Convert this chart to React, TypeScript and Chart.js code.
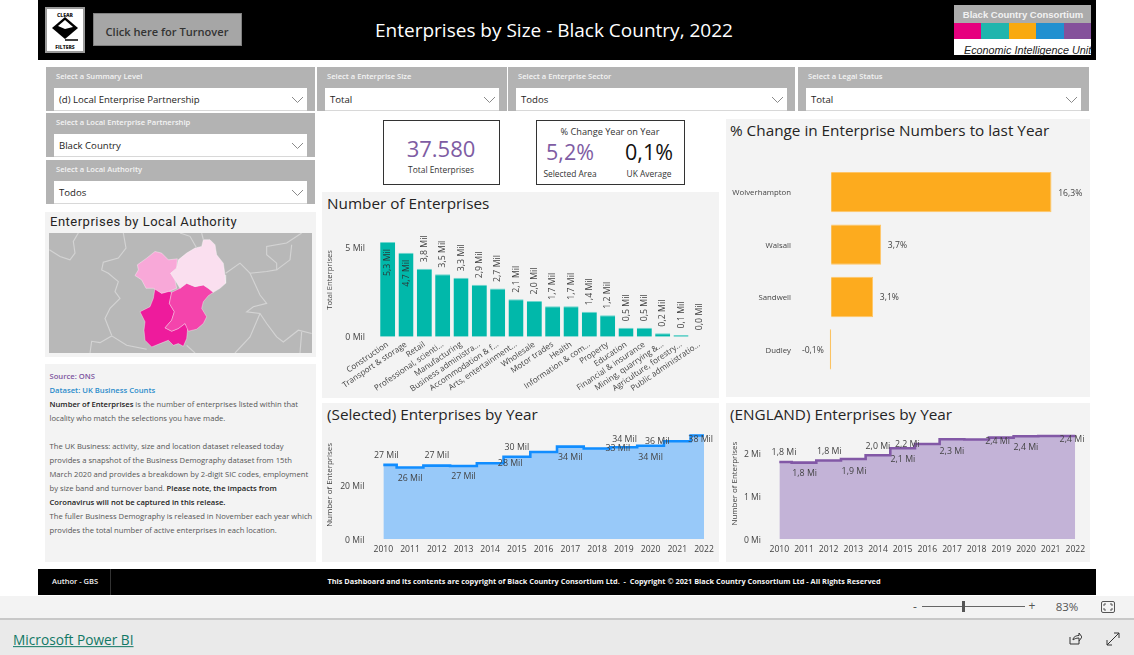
import React, { useEffect, useRef } from "react";
import { Chart, registerables } from "chart.js";

Chart.register(...registerables);

const FONT = '"Open Sans", "Noto Sans", sans-serif';
const INK = "#444444";

// ---------- data ----------
const sectorNames = [
  "Construction", "Transport & storage", "Retail", "Professional, scienti...", "Manufacturing",
  "Business administra...", "Accommodation & f...", "Arts, entertainment...", "Wholesale", "Motor trades",
  "Health", "Information & com...", "Property", "Education", "Financial & insurance",
  "Mining, quarrying &...", "Agriculture, forestry...", "Public administratio...",
];
const sectorValues = [5.3, 4.7, 3.8, 3.5, 3.3, 2.9, 2.7, 2.1, 2.0, 1.7, 1.7, 1.4, 1.2, 0.5, 0.5, 0.2, 0.1, 0.0];
const sectorTicks = [0, 5];

const authorities = ["Wolverhampton", "Walsall", "Sandwell", "Dudley"];
const authorityChange = [16.3, 3.7, 3.1, -0.1];

const years = ["2010", "2011", "2012", "2013", "2014", "2015", "2016", "2017", "2018", "2019", "2020", "2021", "2022"];
const selectedValues = [27.4, 26.4, 27.1, 27.0, 28.0, 30.4, 32.1, 34.1, 33.4, 33.9, 34.4, 36.1, 38.2];
const selectedTicks = [0, 20];
const englandValues = [1.806, 1.79, 1.84, 1.877, 1.963, 2.126, 2.227, 2.336, 2.33, 2.375, 2.407, 2.414, 2.414];
const englandTicks = [0, 1, 2];

// map outlines, in the map's own units
const mapDarkest = [[345,250],[365,265],[385,258],[395,262],[388,295],[403,320],[395,345],[375,368],[395,378],[415,370],[435,355],[443,370],[440,400],[430,423],[415,415],[400,420],[385,405],[360,415],[335,425],[315,405],[312,375],[315,350],[300,320],[330,305],[340,280]];
const mapMedium = [[440,235],[465,245],[490,240],[505,250],[520,262],[505,272],[490,290],[485,310],[500,335],[490,355],[470,372],[445,378],[435,355],[415,370],[395,378],[375,368],[395,345],[403,320],[388,295],[395,262],[420,250]];
const mapLight = [[345,140],[365,145],[385,165],[412,162],[410,190],[392,205],[405,225],[410,250],[385,260],[365,265],[340,250],[318,250],[305,225],[285,212],[295,195],[292,180],[320,160]];
const mapPalest = [[490,105],[510,105],[525,120],[530,150],[550,175],[555,210],[557,235],[540,250],[520,262],[505,250],[490,240],[465,245],[440,235],[420,250],[405,225],[392,205],[410,190],[415,165],[440,145],[465,130],[485,125]];
const mapBorders = [
  [[28,135],[60,155],[90,165],[105,145],[100,110],[115,85]],
  [[250,85],[258,130],[235,160],[190,172],[185,195],[205,205],[235,230],[225,260],[240,280],[210,310],[195,340],[215,390]],
  [[150,443],[155,408],[180,412],[215,392],[260,420],[320,432]],
  [[420,85],[450,95],[470,130]],
  [[485,85],[490,105]],
  [[557,205],[600,175],[630,205],[680,200],[710,195],[710,175],[680,150],[680,125],[740,115],[785,85]],
  [[710,195],[750,165],[755,120]],
  [[630,205],[660,270],[680,295],[640,305],[620,320],[660,325],[680,355],[710,395],[730,410],[775,375],[815,385]],
  [[785,380],[780,443]],
  [[660,325],[630,395],[585,443]],
  [[440,420],[465,443]],
];

const noteLines: [string, string, string?][] = [
  ["Source: ONS", "src"],
  ["Dataset: UK Business Counts", "set"],
  ["Number of Enterprises", "bold", " is the number of enterprises listed within that"],
  ["locality who match the selections you have made.", "body"],
  ["", "body"],
  ["The UK Business: activity, size and location dataset released today", "body"],
  ["provides a snapshot of the Business Demography dataset from 15th", "body"],
  ["March 2020 and provides a breakdown by 2-digit SIC codes, employment", "body"],
  ["by size band and turnover band. ", "bodyb", "Please note, the impacts from"],
  ["Coronavirus will not be captured in this release.", "bold"],
  ["The fuller Business Demography is released in November each year which", "body"],
  ["provides the total number of active enterprises in each location.", "body"],
];

// ---------- label placement (styling, separate from the data) ----------
const selectedLabelShift: ([number, number] | null)[] = [
  [3, -9], [0, 11.3], [0, -9.7], [0, 11], [20, 0.7], [0, -9], null, [0, 11], [20.7, 0], [0.7, -7.3], [0, 11.3], [-20, 0.7], [-3.3, 4.3],
];
const englandLabelShift: ([number, number] | null)[] = [
  [4.7, -9], [0.7, 11.3], [0.7, -9], [0.7, 12.3], [0, -8.7], [0.3, 11.7], [-20, 1], [0, 11.7], null, [-3.7, 3.7], [0, 11.3], null, [-3.3, 4],
];

const comma = (v: number, d = 1) => v.toFixed(d).replace(".", ",");

const font = (size: number) => ({ family: FONT, size });

const noPad = (s: any) => { s.paddingTop = 0; s.paddingBottom = 0; s.paddingLeft = 0; s.paddingRight = 0; };

// ---------- chart host ----------
function Plot({ left, top, width, height, make, style }: any) {
  const ref = useRef<HTMLCanvasElement>(null);
  useEffect(() => {
    const chart = new Chart(ref.current as HTMLCanvasElement, make());
    return () => chart.destroy();
  }, []);
  return (
    <canvas
      ref={ref}
      width={width}
      height={height}
      style={{ position: "absolute", left, top, width, height, display: "block", ...style }}
    />
  );
}

const stepLabelPlugin = (texts: (v: number) => string, shifts: ([number, number] | null)[]) => ({
  id: "stepLabels",
  afterDatasetsDraw(chart: any) {
    const { ctx } = chart;
    const pts = chart.getDatasetMeta(0).data;
    const vals = chart.data.datasets[0].data;
    ctx.save();
    ctx.font = `8.8px ${FONT}`;
    ctx.fillStyle = INK;
    ctx.textAlign = "center";
    ctx.textBaseline = "middle";
    pts.forEach((p: any, i: number) => {
      const s = shifts[i];
      if (s) ctx.fillText(texts(vals[i]), p.x + s[0], p.y + s[1]);
    });
    ctx.restore();
  },
});

const sectorLabelPlugin = {
  id: "sectorLabels",
  afterDatasetsDraw(chart: any) {
    const { ctx } = chart;
    const vals = chart.data.datasets[0].data;
    ctx.save();
    ctx.font = `8.8px ${FONT}`;
    ctx.textBaseline = "middle";
    chart.getDatasetMeta(0).data.forEach((b: any, i: number) => {
      const inside = vals[i] > 4;
      ctx.save();
      ctx.translate(b.x, b.y);
      ctx.rotate(-Math.PI / 2);
      ctx.fillStyle = inside ? "#2b3a3a" : INK;
      ctx.textAlign = inside ? "right" : "left";
      ctx.fillText(`${comma(vals[i])} Mil`, inside ? -7 : 6.5, 0);
      ctx.restore();
    });
    ctx.restore();
  },
};

const changeLabelPlugin = {
  id: "changeLabels",
  afterDatasetsDraw(chart: any) {
    const { ctx } = chart;
    const vals = chart.data.datasets[0].data;
    ctx.save();
    ctx.font = `8.6px ${FONT}`;
    ctx.fillStyle = INK;
    ctx.textBaseline = "middle";
    chart.getDatasetMeta(0).data.forEach((b: any, i: number) => {
      const neg = vals[i] < 0;
      ctx.textAlign = neg ? "right" : "left";
      ctx.fillText(`${comma(vals[i])}%`, b.x + (neg ? -6 : 6.7), b.y + 1);
    });
    ctx.restore();
  },
};

// ---------- chart configs ----------
const sectorConfig = (): any => ({
  type: "bar",
  data: {
    labels: sectorNames,
    datasets: [{ data: sectorValues, backgroundColor: "#01B8AA", borderColor: "#6fd6ce", borderWidth: { top: 1, left: 0, right: 0, bottom: 0 }, barPercentage: 0.82, categoryPercentage: 1 }],
  },
  options: {
    animation: false,
    responsive: false,
    layout: { padding: { top: 31.2, right: 10.5, bottom: 0, left: 0 } },
    plugins: { legend: { display: false }, tooltip: { enabled: false } },
    scales: {
      x: {
        grid: { display: false, drawTicks: false },
        border: { display: false },
        ticks: { autoSkip: false, minRotation: 34, maxRotation: 34, color: INK, font: font(8.1), padding: 3 },
        afterFit: (s: any) => { s.height = 61.3; noPad(s); },
      },
      y: {
        min: 0,
        max: 6.35,
        afterBuildTicks: (s: any) => { s.ticks = sectorTicks.map((value) => ({ value })); },
        grid: { display: false, drawTicks: false },
        border: { display: false },
        ticks: { color: INK, font: font(8.8), padding: 13.5, labelOffset: 1, callback: (v: any) => `${v} Mil` },
        title: { display: true, text: "Total Enterprises", color: INK, font: font(7.6), padding: { top: 3, bottom: 0 } },
        afterFit: (s: any) => { s.width = 56.5; noPad(s); },
      },
    },
  },
  plugins: [sectorLabelPlugin],
});

const changeConfig = (): any => ({
  type: "bar",
  data: {
    labels: authorities,
    datasets: [{ data: authorityChange, backgroundColor: "#FDAB1E", borderColor: "#FFC566", borderWidth: 1, barPercentage: 0.77, categoryPercentage: 1 }],
  },
  options: {
    indexAxis: "y",
    animation: false,
    responsive: false,
    layout: { padding: { top: 47, right: 2, bottom: 21.4, left: 0 } },
    plugins: { legend: { display: false }, tooltip: { enabled: false } },
    scales: {
      x: {
        display: false,
        min: -2.6,
        max: 19,
      },
      y: {
        grid: { display: false, drawTicks: false },
        border: { display: false },
        ticks: { color: INK, font: font(7.8), padding: 5, labelOffset: 1 },
        afterFit: (s: any) => { s.width = 70; noPad(s); },
      },
    },
  },
  plugins: [changeLabelPlugin],
});

const stepConfig = (o: any): any => ({
  type: "line",
  data: {
    labels: years,
    datasets: [{ data: o.values, stepped: "middle", borderColor: o.line, borderWidth: 2.6, backgroundColor: o.area, fill: "origin", pointRadius: 0 }],
  },
  options: {
    animation: false,
    responsive: false,
    layout: { padding: { top: o.padTop, right: o.padRight, bottom: 0, left: 0 } },
    plugins: { legend: { display: false }, tooltip: { enabled: false } },
    scales: {
      x: {
        grid: { display: false, drawTicks: false },
        border: { display: false },
        ticks: { autoSkip: false, maxRotation: 0, color: INK, font: font(8.6), padding: 5 },
        afterFit: (s: any) => { s.height = 22.7; noPad(s); },
      },
      y: {
        min: 0,
        max: o.max,
        afterBuildTicks: (s: any) => { s.ticks = o.ticks.map((value: number) => ({ value })); },
        grid: { display: false, drawTicks: false },
        border: { display: false },
        ticks: { color: INK, font: font(8.6), padding: o.tickPad, labelOffset: o.labelOffset, callback: (v: any) => `${v} ${o.unit}` },
        title: { display: true, text: "Number of Enterprises", color: INK, font: font(7.9), padding: { top: o.titlePad, bottom: 0 } },
        afterFit: (s: any) => { s.width = o.axisWidth; noPad(s); },
      },
    },
  },
  plugins: [stepLabelPlugin((v) => o.text(v), o.shifts)],
});

const poly = (pts: number[][], colour: string) => ({
  data: [...pts, pts[0]].map(([x, y]) => ({ x, y })),
  showLine: true,
  fill: "shape",
  backgroundColor: colour,
  borderColor: "rgba(255,255,255,0.45)",
  borderWidth: 0.8,
  pointRadius: 0,
});

const mapConfig = (): any => ({
  type: "scatter",
  data: {
    datasets: [
      ...mapBorders.map((b) => ({
        data: b.map(([x, y]) => ({ x, y })),
        showLine: true,
        fill: false,
        borderColor: "#D4D4D4",
        borderWidth: 1.1,
        pointRadius: 0,
      })),
      poly(mapPalest, "#FADFEF"),
      poly(mapLight, "#F8A8D8"),
      poly(mapMedium, "#F444AC"),
      poly(mapDarkest, "#EE1B9C"),
    ],
  },
  options: {
    animation: false,
    responsive: false,
    layout: { padding: 0 },
    plugins: { legend: { display: false }, tooltip: { enabled: false } },
    scales: {
      x: { display: false, min: 27, max: 816 },
      y: { display: false, min: 85, max: 443, reverse: true },
    },
  },
});

// ---------- page furniture ----------
const T = ({ x, y, children, size = 9, color = INK, weight = 400, align = "left", family = FONT, style }: any) => (
  <div
    style={{
      position: "absolute",
      left: x,
      top: y,
      fontFamily: family,
      fontSize: size,
      fontWeight: weight,
      color,
      whiteSpace: "pre",
      lineHeight: 1,
      transform: align === "center" ? "translate(-50%,-50%)" : align === "right" ? "translate(-100%,-50%)" : "translateY(-50%)",
      ...style,
    }}
  >
    {children}
  </div>
);

const Box = ({ x, y, w, h, bg, style }: any) => (
  <div style={{ position: "absolute", left: x, top: y, width: w, height: h, background: bg, ...style }} />
);

const Slicer = ({ x, y, w, h, title, value }: any) => (
  <>
    <Box x={x} y={y} w={w} h={h} bg="#B3B3B3" />
    <T x={x + 10} y={y + 9.5} size={7.6} color="#F4F4F4" weight={600}>{title}</T>
    <Box x={x + 8} y={y + 20.5} w={w - 16} h={23} bg="#FFFFFF" style={{ borderBottom: "1px solid #D8D8D8", boxSizing: "border-box" }} />
    <T x={x + 13} y={y + 32.7} size={9.6} color="#252423">{value}</T>
    <svg style={{ position: "absolute", left: x + w - 24, top: y + 29 }} width="13" height="8">
      <polyline points="1,1 6.5,6.5 12,1" fill="none" stroke="#8a8a8a" strokeWidth="1" />
    </svg>
  </>
);

const PanelTitle = ({ x, y, children }: any) => (
  <T x={x} y={y} size={15.3} color="#252423">{children}</T>
);

const noteStyle: any = {
  src: { color: "#7D55A0", fontWeight: 600 },
  set: { color: "#2A8CCB", fontWeight: 600 },
  bold: { color: "#222222", fontWeight: 600 },
  body: { color: "#555555" },
  bodyb: { color: "#555555" },
};

export default function App() {
  return (
    <div style={{ position: "fixed", left: 0, top: 0, width: 1134, height: 655, background: "#FFFFFF", overflow: "hidden" }}>
      {/* header */}
      <Box x={38} y={0} w={1058} h={60} bg="#000000" />
      <Box x={45} y={7} w={40} h={46} bg="#FFFFFF" style={{ border: "2px solid #9A9A9A", boxSizing: "border-box" }} />
      <T x={65} y={14.5} size={5} weight={800} color="#222" align="center">CLEAR</T>
      <T x={65} y={46.5} size={5} weight={800} color="#222" align="center">FILTERS</T>
      <svg style={{ position: "absolute", left: 51, top: 17 }} width="28" height="25">
        <polygon points="14,0 27,11 14,22 1,11" fill="#000" />
        <polygon points="14,3 22,10 14,12 7,9" fill="#fff" />
        <polyline points="14,23 27,23" stroke="#000" strokeWidth="1.5" />
      </svg>
      <Box x={92.5} y={13} w={149} h={33} bg="#A6A6A6" style={{ border: "1px solid #7f7f7f", boxSizing: "border-box" }} />
      <T x={167} y={32} size={11.1} weight={600} color="#333333" align="center">Click here for Turnover</T>
      <T x={554} y={30} size={19} weight={400} color="#FFFFFF" align="center">Enterprises by Size - Black Country, 2022</T>

      <Box x={954} y={5} w={137} h={18} bg="#ABABAB" />
      <T x={1023} y={14.5} size={9.5} weight={700} color="#F2F2F2" align="center" family='"Liberation Sans", sans-serif'>Black Country Consortium</T>
      <Box x={954} y={23} w={27.4} h={16} bg="#E6007E" />
      <Box x={981.4} y={23} w={27.4} h={16} bg="#1FB5AD" />
      <Box x={1008.8} y={23} w={27.4} h={16} bg="#F9A90F" />
      <Box x={1036.2} y={23} w={27.4} h={16} bg="#2190D0" />
      <Box x={1063.6} y={23} w={27.4} h={16} bg="#84519B" />
      <Box x={954} y={39} w={137} h={16} bg="#FFFFFF" />
      <T x={964} y={49.5} size={10.8} color="#222" family='"Liberation Sans", sans-serif' style={{ fontStyle: "italic" }}>Economic Intelligence Unit</T>

      {/* slicers */}
      <Slicer x={46} y={67} w={269} h={44} title="Select a Summary Level" value="(d) Local Enterprise Partnership" />
      <Slicer x={46} y={113} w={269} h={44} title="Select a Local Enterprise Partnership" value="Black Country" />
      <Slicer x={46} y={160} w={269} h={44} title="Select a Local Authority" value="Todos" />
      <Slicer x={317} y={67} w={189.5} h={44} title="Select a Enterprise Size" value="Total" />
      <Slicer x={508} y={67} w={287} h={44} title="Select a Enterprise Sector" value="Todos" />
      <Slicer x={798} y={67} w={290.5} h={44} title="Select a Legal Status" value="Total" />

      {/* KPI cards */}
      <Box x={383} y={120} w={117} h={64.5} bg="#FFFFFF" style={{ border: "1px solid #333", boxSizing: "border-box" }} />
      <T x={441} y={147.5} size={22} color="#7E5CA3" align="center">37.580</T>
      <T x={441} y={170} size={8.4} color="#333" align="center">Total Enterprises</T>
      <Box x={535.5} y={120} w={149} h={64.5} bg="#FFFFFF" style={{ border: "1px solid #333", boxSizing: "border-box" }} />
      <T x={610} y={131.5} size={9.2} color="#333" align="center">% Change Year on Year</T>
      <T x={570} y={151.5} size={21.5} color="#7E5CA3" align="center">5,2%</T>
      <T x={649} y={151.5} size={21.5} color="#111" align="center">0,1%</T>
      <T x={570} y={174} size={8.4} color="#333" align="center">Selected Area</T>
      <T x={649} y={174} size={8.4} color="#333" align="center">UK Average</T>

      {/* map panel */}
      <Box x={45} y={212} w={271} h={145} bg="#F3F3F3" />
      <T x={50} y={220.5} size={13} color="#252423" family='Roboto, sans-serif' style={{ letterSpacing: 0.5 }}>Enterprises by Local Authority</T>
      <Plot left={49} top={233} width={263} height={120} make={mapConfig} style={{ background: "#B8B8B8" }} />

      {/* notes panel */}
      <Box x={45} y={364} w={271} h={198} bg="#F3F3F3" />
      {noteLines.map(([a, kind, b], i) => (
        <T key={i} x={49.5} y={377 + i * 14} size={7.65} style={noteStyle[kind]}>
          {a}
          {b ? <span style={kind === "bold" ? { color: "#555555", fontWeight: 400 } : { color: "#222222", fontWeight: 600 }}>{b}</span> : null}
        </T>
      ))}

      {/* bar panel */}
      <Box x={322} y={192} w={397} h={206} bg="#F3F3F3" />
      <PanelTitle x={327} y={203.5}>Number of Enterprises</PanelTitle>
      <Plot left={322} top={192} width={397} height={206} make={sectorConfig} />

      {/* change panel */}
      <Box x={726} y={119} w={364} h={278} bg="#F3F3F3" />
      <PanelTitle x={730} y={131}>% Change in Enterprise Numbers to last Year</PanelTitle>
      <Plot left={726} top={119} width={364} height={278} make={changeConfig} />

      {/* selected */}
      <Box x={322} y={403} w={397} h={159} bg="#F3F3F3" />
      <PanelTitle x={327} y={415}>(Selected) Enterprises by Year</PanelTitle>
      <Plot
        left={322}
        top={403}
        width={397}
        height={159}
        make={() => stepConfig({
          values: selectedValues, ticks: selectedTicks, max: 40, unit: "Mil",
          line: "#118DFF", area: "#98C9F9", padTop: 27.6, padRight: 15, axisWidth: 61.3, tickPad: 19, titlePad: 3, labelOffset: 1.5,
          shifts: selectedLabelShift, text: (v: number) => `${Math.round(v)} Mil`,
        })}
      />

      {/* england */}
      <Box x={726} y={403} w={364} h={158.5} bg="#F3F3F3" />
      <PanelTitle x={730} y={415}>(ENGLAND) Enterprises by Year</PanelTitle>
      <Plot
        left={726}
        top={403}
        width={364}
        height={159}
        make={() => stepConfig({
          values: englandValues, ticks: englandTicks, max: 2.6, unit: "Mi",
          line: "#8258A6", area: "#C3B3D7", padTop: 25, padRight: 14.7, axisWidth: 53.3, tickPad: 18.3, titlePad: 4, labelOffset: 1,
          shifts: englandLabelShift, text: (v: number) => `${comma(v)} Mi`,
        })}
      />

      {/* footer */}
      <Box x={38} y={569} w={1058} h={26} bg="#000000" />
      <Box x={110} y={569} w={1} h={26} bg="#333333" />
      <T x={52} y={582} size={7.5} weight={600} color="#F0F0F0">Author - GBS</T>
      <T x={604} y={582} size={7.35} weight={700} color="#F5F5F5" align="center">This Dashboard and its contents are copyright of Black Country Consortium Ltd.  -  Copyright © 2021 Black Country Consortium Ltd - All Rights Reserved</T>

      <Box x={0} y={596} w={1134} h={22} bg="#F3F3F3" />
      <Box x={0} y={618} w={1134} h={1.5} bg="#C8C8C8" />
      <Box x={0} y={619.5} w={1134} h={36} bg="#EAEAEA" />
      <T x={915} y={606.5} size={12} color="#555" align="center">-</T>
      <Box x={922} y={606} w={103} h={1} bg="#666" />
      <Box x={962} y={601} w={3} h={11} bg="#555" />
      <T x={1032} y={606} size={12} color="#555" align="center">+</T>
      <T x={1067} y={606.5} size={11.5} color="#555" align="center">83%</T>
      <svg style={{ position: "absolute", left: 1101, top: 601 }} width="14" height="12">
        <rect x="0.5" y="0.5" width="13" height="11" rx="1.5" fill="none" stroke="#555" />
        <path d="M3 5V3h2M9 3h2v2M3 7v2h2M9 9h2V7" fill="none" stroke="#555" />
      </svg>
      <T x={13} y={640} size={13.7} color="#117865" style={{ textDecoration: "underline" }}>Microsoft Power BI</T>
      <svg style={{ position: "absolute", left: 1068, top: 632 }} width="14" height="14">
        <path d="M2 5v7h9v-3M5 8c0-3 3-4.500 6-4.500V1l3 4-3 4V6c-3 0-5 1-6 2z" fill="none" stroke="#333" strokeWidth="1" />
      </svg>
      <svg style={{ position: "absolute", left: 1106, top: 632 }} width="14" height="14">
        <path d="M8 1h5v5M13 1L1 13M1 8v5h5" fill="none" stroke="#333" strokeWidth="1" />
      </svg>
    </div>
  );
}
